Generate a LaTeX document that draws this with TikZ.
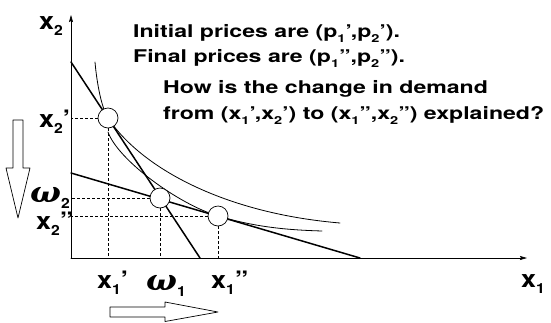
\documentclass[tikz,border=0pt]{standalone}
\usepackage{fontspec}
\usepackage{graphicx}
\setmainfont{TeX Gyre Heros}
\newfontfamily\omfont{DejaVu Serif}
\usetikzlibrary{arrows.meta}
\newcommand{\sub}[1]{\raisebox{-.3em}{\fontsize{11}{11}\selectfont #1}}
\newcommand{\lsub}[1]{\raisebox{-.28em}{\fontsize{14}{14}\selectfont #1}}
\newcommand{\om}{{\omfont\bfseries\itshape\fontsize{29}{29}\selectfont ω}}
\newcommand{\tline}[1]{\scalebox{1.32}[1]{#1}}
\newcommand{\lline}[1]{\scalebox{1.12}[1]{#1}}

\begin{document}
\begin{tikzpicture}[x=1pt,y=-1pt,line join=round,line cap=round]
	\tikzset{
		lab/.style={anchor=base west,inner sep=0pt,font=\bfseries\fontsize{24}{24}\selectfont},
		txt/.style={anchor=base west,inner sep=0pt,font=\bfseries\fontsize{17.5}{17.5}\selectfont},
		pt/.style={circle,draw,fill=white,minimum size=20pt,inner sep=0pt,line width=.7pt},
		guide/.style={dash pattern=on 3pt off 2pt,line width=.5pt,line cap=butt},
		budget/.style={line width=1.5pt},
		indiff/.style={line width=.8pt},
		axis/.style={line width=.7pt,-{Stealth[length=7pt,width=4pt,inset=1pt]}},
		hollow/.style={draw,fill=white,line width=.7pt}
	}
	\useasboundingbox (0,0) rectangle (551,322);
	
	\path
	(71,258) coordinate (O)
	(527,258) coordinate (X)
	(71,15) coordinate (Y)
	(71,62) coordinate (S1)  (200,258) coordinate (E1)
	(71,173) coordinate (S2) (360,258) coordinate (E2)
	(95,62) coordinate (U1)  (340,223) coordinate (V1)
	(108,132) coordinate (U2) (322,231) coordinate (V2);
	
	% indifference curves
	\draw[indiff] (U1) .. controls (97,85) and (102,109) .. (108,118)
		.. controls (140,166.6) and (222,213) .. (V1);
	\draw[indiff] (U2) .. controls (118,160) and (178,204) .. (218,216)
		.. controls (258,227.8) and (290,230) .. (V2);
	
	% budget lines
	\draw[budget] (S1) -- (E1);
	\draw[budget] (S2) -- (E2);
	
	\draw[axis] (O) -- (X);
	\draw[axis] (O) -- (Y);
	
	\node[pt] (A) at (108,118) {};
	\node[pt] (W) at (160,198) {};
	\node[pt] (B) at (218,216) {};
	\foreach \p in {A,W,B}{
		\draw[guide] (\p) -- (\p -| O);
		\draw[guide] (\p) -- (\p |- O);
	}
	
	\node[lab] (lx2) at (39,29) {\lline{x\lsub{2}}};
	\node[lab] (lx2a) at (39,127) {\lline{x\lsub{2}’}};
	\node[lab] (lw2) at (30,202) {\lline{\om\lsub{2}}};
	\node[lab] (lx2b) at (36,229) {\lline{x\lsub{2}”}};
	\node[lab] (lx1a) at (97,288) {\lline{x\lsub{1}’}};
	\node[lab] (lw1) at (146,290) {\lline{\om\lsub{1}}};
	\node[lab] (lx1b) at (211,288) {\lline{x\lsub{1}”}};
	\node[lab] (lx1) at (521,287) {\lline{x\lsub{1}}};
	
	\node[txt] (t1) at (133,37) {\tline{Initial prices are (p\sub{1}’,p\sub{2}’).}};
	\node[txt] (t2) at (133,62) {\tline{Final prices are (p\sub{1}”,p\sub{2}”).}};
	\node[txt] (t3) at (163,93) {\tline{How is the change in demand}};
	\node[txt] (t4) at (163,119) {\tline{from (x\sub{1}’,x\sub{2}’) to (x\sub{1}”,x\sub{2}”) explained?}};
	
	% shift arrows
	\draw[hollow] (13,120) -- (23,120) -- (23,168) -- (30,168) -- (18,218) -- (6,168) -- (13,168) -- cycle;
	\draw[hollow] (110,307) -- (165,307) -- (165,302) -- (218,312) -- (165,321.5) -- (165,317) -- (110,317) -- cycle;
\end{tikzpicture}
\end{document}
